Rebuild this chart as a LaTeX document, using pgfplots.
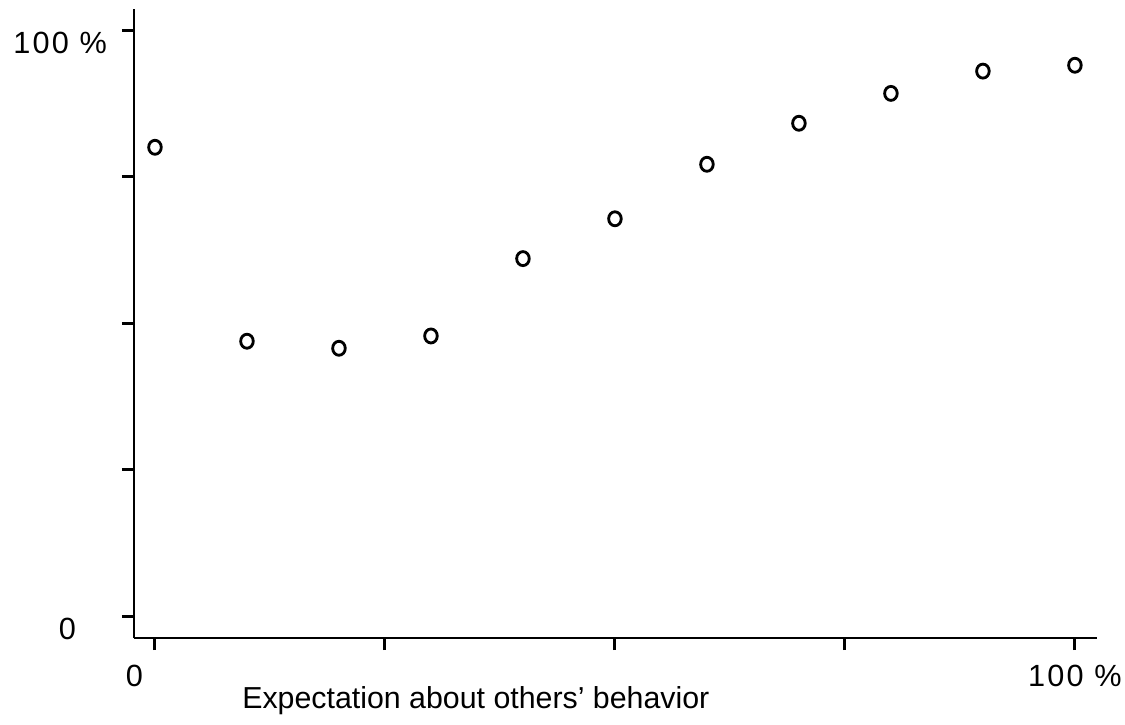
\documentclass[border=0pt]{standalone}
\usepackage{pgfplots}
\pgfplotsset{compat=1.18}
\usepackage{fontspec}
\setmainfont{Liberation Sans}
\begin{document}
\begin{tikzpicture}
\useasboundingbox (0,0) rectangle (337.5pt,-217.2pt);
\begin{axis}[
  at={(40.2pt,-191.4pt)}, anchor=south west,
  scale only axis, width=288.9pt, height=188.7pt,
  xmin=-2.28, xmax=102.4, ymin=-3.75, ymax=103.6,
  axis x line=bottom, axis y line=left,
  axis line style={line width=0.6pt, -},
  tick align=outside, major tick length=3.6pt,
  tick style={line width=0.9pt, black},
  xtick={0,25,50,75,100}, ytick={0,25,50,75,100},
  xticklabels={{\llap{0\hspace*{3.6pt}}},,,,{100 \%}},
  yticklabels={{0\hspace*{9.3pt}},,,,{100 \%}},
  ticklabel style={font=\fontsize{9.2}{11}\selectfont\addfontfeatures{LetterSpace=7}},
  yticklabel style={yshift=-3.8pt, xshift=-1pt},
  xticklabel style={yshift=-1pt},
  xlabel={Expectation about others’ behavior},
  xlabel style={font=\fontsize{9.1}{11}\selectfont, at={(axis description cs:0.355,0)}, anchor=base, yshift=-21pt},
  clip=false,
]
\addplot[only marks, mark=o, mark size=2.1pt, mark options={line width=0.85pt, xscale=0.9}, black] coordinates {
(0,80.0) (10,46.9) (20,45.7) (30,47.8) (40,61.0) (50,67.8) (60,77.1) (70,84.1) (80,89.2) (90,93.0) (100,94.0)
};
\end{axis}
\end{tikzpicture}
\end{document}
